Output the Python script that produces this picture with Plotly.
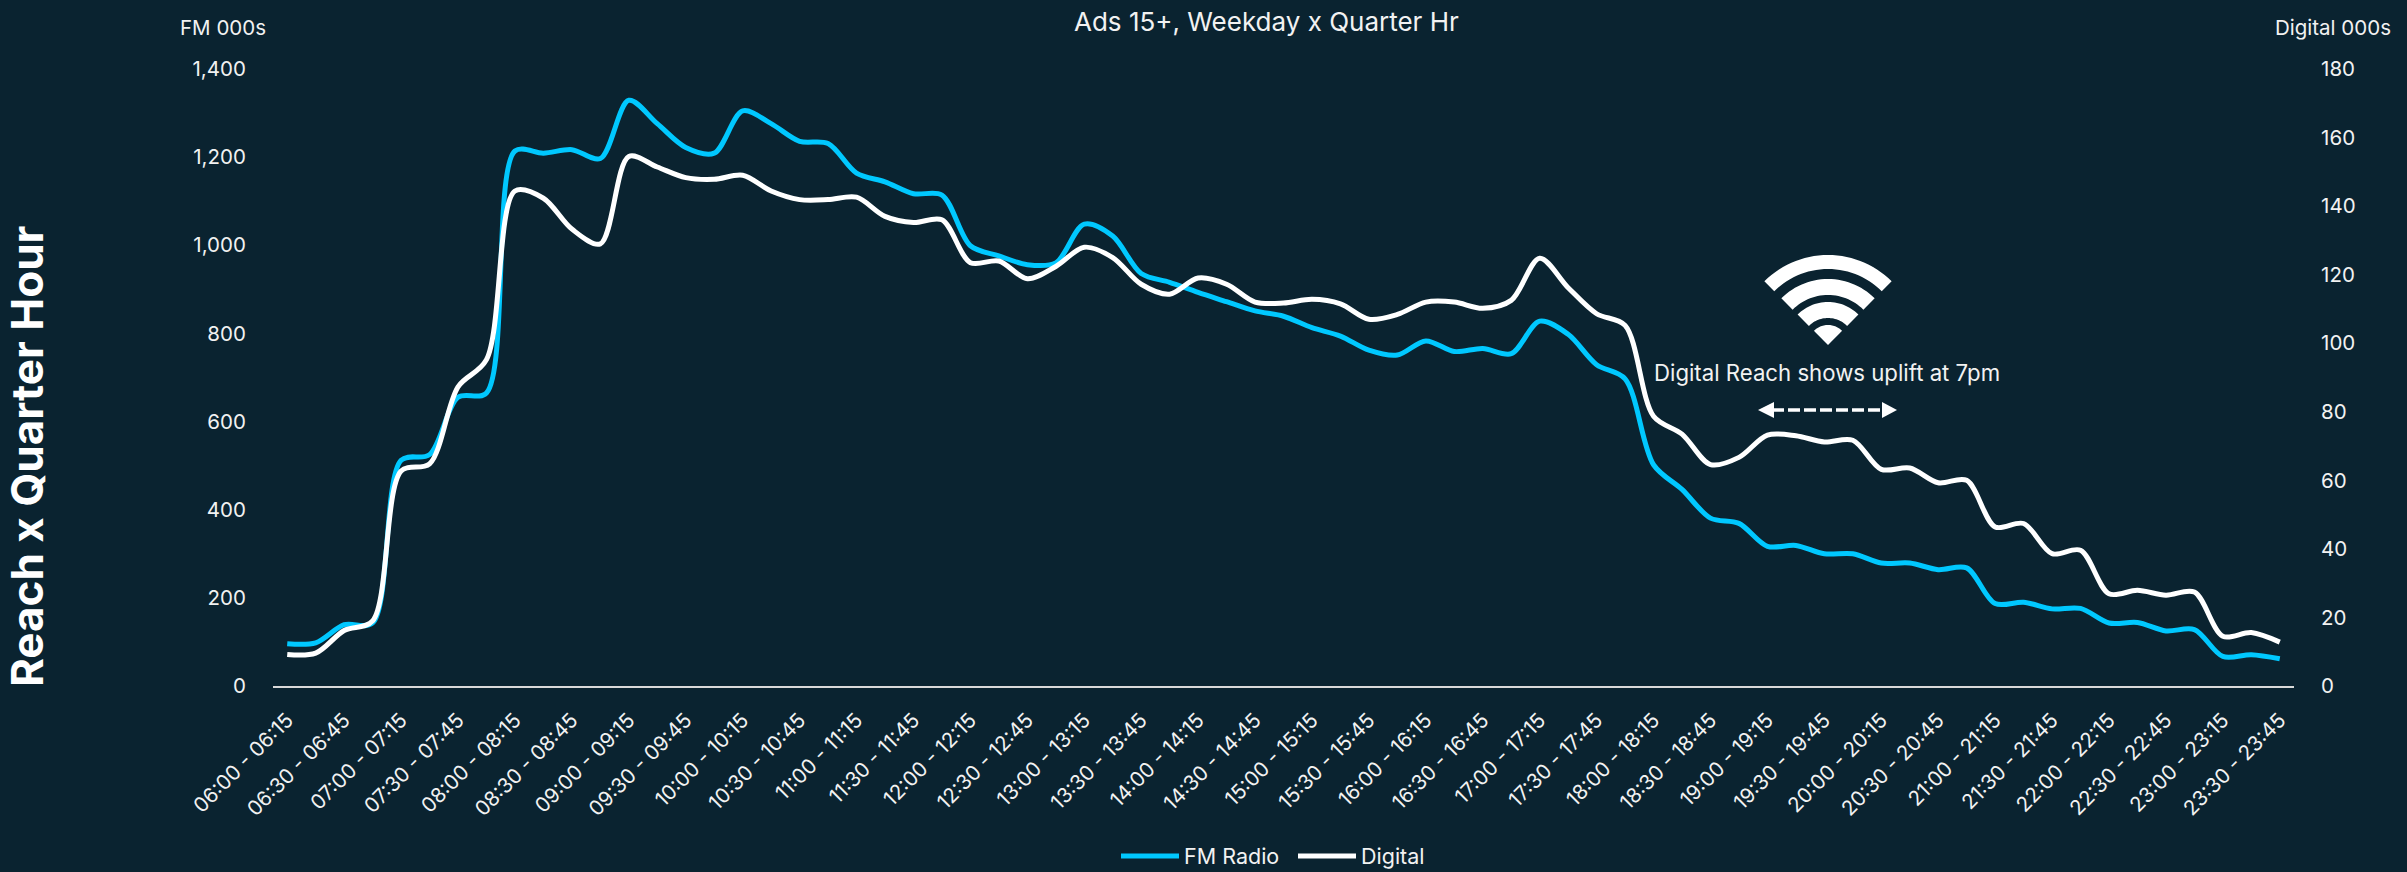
import math
import plotly.graph_objects as go

starts = []
for h in range(6, 24):
    for m in (0, 15, 30, 45):
        starts.append((h, m))
starts = starts[:71]


def slot(h, m):
    e = h * 60 + m + 15
    return f"{h:02d}:{m:02d} - {e // 60:02d}:{e % 60:02d}"


categories = [slot(h, m) for h, m in starts]
tick_labels = categories[::2]

fm_radio = [96, 98, 139, 143, 512, 525, 655, 665, 1214, 1209, 1217, 1197, 1329, 1276, 1222, 1209,
            1305, 1276, 1236, 1231, 1164, 1144, 1117, 1114, 999,
            976, 956, 960, 1048, 1021, 936, 916, 893, 872, 851, 839, 813, 794, 762, 751, 783, 759,
            766, 754, 828, 798, 729, 697, 502, 446, 381, 369,
            317, 319, 300, 300, 279, 279, 264, 268, 187, 190, 175, 176, 143, 144, 125, 128, 67, 71, 62]
digital = [9.2, 9.6, 16.2, 19.0, 62.7, 64.8, 87.3, 95.2, 144.4, 142.3, 133.3, 129, 154.5, 151.4, 148.3, 147.8,
           149, 144.4, 141.9, 141.9, 142.6, 137, 135.2, 136, 123.5,
           124, 118.8, 122.4, 128, 125, 117.2, 114.3, 119, 117.2, 112, 111.7, 112.8, 111.5, 107, 108.4, 112, 112,
           110.2, 112.5, 124.8, 116.2, 108.6, 105.2, 78.7, 73.5, 64.6, 66.7,
           73.2, 73, 71.2, 71.7, 63.2, 63.6, 59.3, 60, 46.4, 47.4, 38.6, 39.6, 26.9, 27.9, 26.5, 27.4, 14.5, 15.6, 12.8]
fm_ticks = [0, 200, 400, 600, 800, 1000, 1200, 1400]
digital_ticks = [0, 20, 40, 60, 80, 100, 120, 140, 160, 180]

BG = "#0A2330"
BLUE = "#00C8FF"
WHITE = "#FFFFFF"
TXT = "#F2F2F2"
FONT = "Inter"
L, R, T, B = 273, 2294, 69, 686


def px(x):
    return (x - L) / (R - L)


def py(y):
    return (B - y) / (B - T)


def wedge(cx, cy, r0, r1):
    pts = []
    for k in range(0, 31):
        a = math.radians(45 + 90 * k / 30)
        pts.append((cx + r1 * math.cos(a), cy - r1 * math.sin(a)))
    for k in range(30, -1, -1):
        a = math.radians(45 + 90 * k / 30)
        pts.append((cx + r0 * math.cos(a), cy - r0 * math.sin(a)))
    return "M " + " L ".join(f"{px(x):.5f},{py(y):.5f}" for x, y in pts) + " Z"


def tri(p):
    return "M " + " L ".join(f"{px(x):.5f},{py(y):.5f}" for x, y in p) + " Z"


fig = go.Figure()
fig.add_trace(go.Scatter(x=categories, y=fm_radio, name="FM Radio", mode="lines",
                         line=dict(color=BLUE, width=5, shape="spline", smoothing=0.9)))
fig.add_trace(go.Scatter(x=categories, y=digital, name="Digital", mode="lines", yaxis="y2",
                         line=dict(color=WHITE, width=5, shape="spline", smoothing=0.9)))

shapes = []
for r0, r1 in [(76, 90), (50, 66), (27, 43), (0, 20)]:
    shapes.append(dict(type="path", xref="paper", yref="paper", path=wedge(1828, 345, r0, r1),
                       fillcolor=WHITE, line=dict(width=0)))
shapes.append(dict(type="line", xref="paper", yref="paper", x0=px(1772), x1=px(1884), y0=py(410), y1=py(410),
                   line=dict(color=WHITE, width=3.5, dash="12px,4px")))
shapes.append(dict(type="path", xref="paper", yref="paper",
                   path=tri([(1758, 410), (1774, 402), (1774, 418)]), fillcolor=WHITE, line=dict(width=0)))
shapes.append(dict(type="path", xref="paper", yref="paper",
                   path=tri([(1897, 410), (1882, 402), (1882, 418)]), fillcolor=WHITE, line=dict(width=0)))


def note(text, x, y, size, color=TXT, **kw):
    return dict(text=text, xref="paper", yref="paper", x=px(x), y=py(y), showarrow=False,
                xanchor="center", yanchor="middle", font=dict(family=FONT, size=size, color=color), **kw)


annotations = [
    note("Ads 15+, Weekday x Quarter Hr", 1266, 21, 26),
    note("FM 000s", 223, 28, 20.5),
    note("Digital 000s", 2333, 28, 20.5),
    note("<b>Reach x Quarter Hour</b>", 27, 456, 44, color=WHITE, textangle=-90),
    note("Digital Reach shows uplift at 7pm", 1827, 372, 22.2),
]

fig.update_layout(
    width=2407, height=872,
    margin=dict(l=L, r=2407 - R, t=T, b=872 - B, pad=0, autoexpand=False),
    paper_bgcolor=BG, plot_bgcolor=BG,
    font=dict(family=FONT, color=TXT, size=19),
    shapes=shapes, annotations=annotations,
    showlegend=True,
    legend=dict(orientation="h", x=px(1293), xanchor="center", y=py(856), yanchor="middle",
                font=dict(family=FONT, size=21.5, color=TXT), itemwidth=58, bgcolor="rgba(0,0,0,0)",
                entrywidth=104, entrywidthmode="pixels"),
    xaxis=dict(type="category", categoryorder="array", categoryarray=categories, range=[-0.5, 70.5],
               automargin=False,
               tickmode="array", tickvals=tick_labels, ticktext=tick_labels, tickangle=-45,
               showgrid=False, zeroline=False, showline=True, linecolor="#D9D9D9", linewidth=2,
               ticks="outside", ticklen=12, tickcolor="rgba(0,0,0,0)",
               tickfont=dict(family=FONT, size=20.5, color=TXT)),
    yaxis=dict(range=[0, 1400], tickmode="array", tickvals=fm_ticks, tickformat=",", showgrid=False,
               automargin=False,
               zeroline=False, showline=False, ticks="outside", ticklen=22, tickcolor="rgba(0,0,0,0)",
               tickfont=dict(family=FONT, size=20.5, color=TXT)),
    yaxis2=dict(range=[0, 180], overlaying="y", side="right", tickmode="array", tickvals=digital_ticks,
                automargin=False,
                showgrid=False, zeroline=False, showline=False, ticks="outside", ticklen=22,
                tickcolor="rgba(0,0,0,0)", tickfont=dict(family=FONT, size=20.5, color=TXT)),
)
fig.write_html("out.html", config=dict(displayModeBar=False),
               post_script="document.body.style.margin='0';document.body.style.background='%s';" % BG)
